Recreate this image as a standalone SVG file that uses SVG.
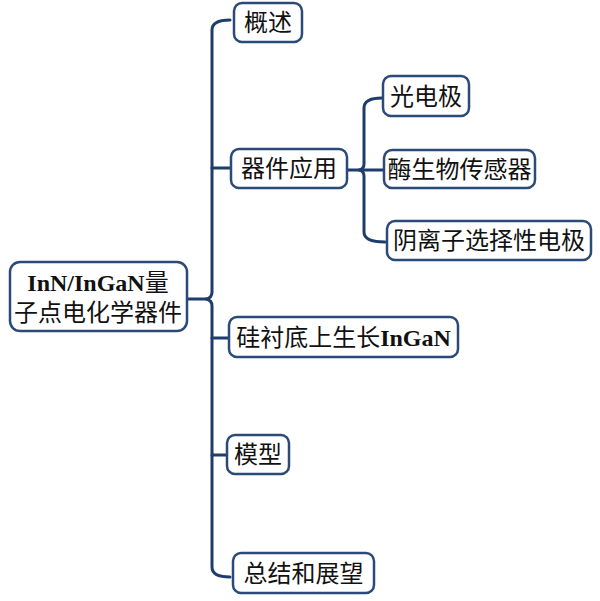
<svg xmlns="http://www.w3.org/2000/svg" width="600" height="601" viewBox="0 0 600 601">
<style>
.box{fill:#ffffff;stroke:#2b4a78;stroke-width:2.5}
.ln{fill:none;stroke:#1f3d6c;stroke-width:3;stroke-linecap:round;stroke-linejoin:round}
.t{font-family:"Noto Sans CJK SC","Liberation Serif",serif;font-size:24px;fill:#111111;text-anchor:middle}
.b{font-family:"Liberation Serif",serif;font-weight:bold}
</style>
<rect width="600" height="601" fill="#ffffff"/>
<g id="connectors">
<path class="ln" d="M230,20 Q212,20 212,30 L212,292 Q212,298 206,299 Q212,300 212,306 L212,567 Q212,577 230,577"/>
<path class="ln" d="M188,299 L206,299"/>
<path class="ln" d="M212,168 L231,168"/>
<path class="ln" d="M212,338 L229,338"/>
<path class="ln" d="M212,455 L227,455"/>
<path class="ln" d="M382,98 Q364,98 364,108 L364,164 Q364,169 359,170 Q364,171 364,176 L364,232 Q364,242 385,242"/>
<path class="ln" d="M347,170 L359,170"/>
<path class="ln" d="M364,170 L384,170"/>
</g>
<g id="root">
<rect class="box" x="10" y="262" width="177" height="69" rx="10"/>
<text class="t" x="98" y="291"><tspan class="b">InN/InGaN</tspan>量</text>
<text class="t" x="98" y="321">子点电化学器件</text>
</g>
<g id="n-overview">
<rect class="box" x="234" y="3" width="68" height="39" rx="8"/>
<text class="t" x="268" y="31">概述</text>
</g>
<g id="n-app">
<rect class="box" x="231" y="149" width="116" height="39" rx="8"/>
<text class="t" x="289" y="177">器件应用</text>
</g>
<g id="n-photo">
<rect class="box" x="383" y="76" width="86" height="40" rx="8"/>
<text class="t" x="426" y="105">光电极</text>
</g>
<g id="n-enzyme">
<rect class="box" x="384" y="150" width="151" height="38" rx="8"/>
<text class="t" x="459.5" y="178">酶生物传感器</text>
</g>
<g id="n-anion">
<rect class="box" x="387" y="221" width="204" height="39" rx="8"/>
<text class="t" x="489" y="249">阴离子选择性电极</text>
</g>
<g id="n-si">
<rect class="box" x="229" y="317" width="229" height="40" rx="8"/>
<text class="t" x="343.5" y="346">硅衬底上生长<tspan class="b">InGaN</tspan></text>
</g>
<g id="n-model">
<rect class="box" x="227" y="435" width="62" height="39" rx="8"/>
<text class="t" x="258" y="463">模型</text>
</g>
<g id="n-summary">
<rect class="box" x="233" y="553" width="141" height="40" rx="8"/>
<text class="t" x="303.5" y="582">总结和展望</text>
</g>
</svg>
